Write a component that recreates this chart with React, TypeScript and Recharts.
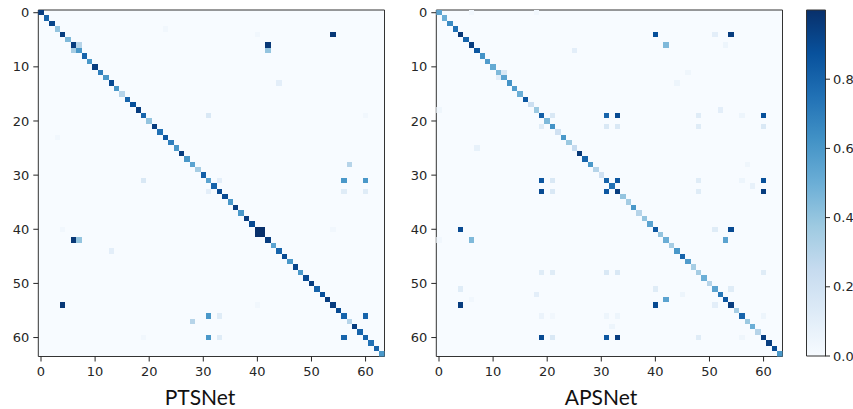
import React from "react";
import {
  Bar,
  BarChart,
  CartesianGrid,
  ReferenceArea,
  Scatter,
  ScatterChart,
  XAxis,
  YAxis,
} from "recharts";

const axisTicks = [0, 10, 20, 30, 40, 50, 60];
const barTicks = [0, 0.2, 0.4, 0.6, 0.8];

// diagonal of each matrix, row 0..63
const ptsDiag = [
  0.95, 0.8, 0.92, 0.4, 0.95, 0.45, 0.95, 0.6, 0.8, 0.6,
  0.95, 0.7, 0.6, 0.9, 0.6, 0.3, 0.8, 0.88, 0.95, 0.8,
  0.4, 0.95, 0.75, 0.85, 0.7, 0.6, 0.95, 0.6, 0.55, 0.35,
  0.82, 0.55, 0.8, 0.9, 0.9, 0.6, 0.95, 0.6, 0.95, 0.9,
  1, 1, 0.95, 0.55, 0.8, 0.9, 0.6, 0.92, 0.6, 0.9,
  0.95, 0.8, 0.88, 0.95, 0.95, 0.9, 0.8, 0.3, 0.95, 0.8,
  0.8, 0.75, 0.8, 0.6,
];

// off-diagonal cells: [row, col, value]
const ptsOff = [
  [3, 23, 0.03], [4, 40, 0.03], [4, 54, 0.97], [6, 7, 0.3], [7, 6, 0.35],
  [6, 42, 0.97], [7, 42, 0.4], [13, 44, 0.1], [19, 31, 0.15], [19, 60, 0.03],
  [23, 3, 0.03], [28, 57, 0.3], [31, 19, 0.15], [31, 33, 0.1], [31, 56, 0.6],
  [31, 60, 0.6], [33, 31, 0.1], [33, 56, 0.12], [33, 60, 0.12], [40, 4, 0.03],
  [40, 54, 0.03], [40, 41, 1], [41, 40, 1], [42, 6, 0.97], [42, 7, 0.4],
  [44, 13, 0.1], [54, 4, 0.97], [54, 40, 0.03], [56, 31, 0.6], [56, 33, 0.12],
  [56, 60, 0.8], [57, 28, 0.3], [60, 19, 0.03], [60, 31, 0.6], [60, 33, 0.12],
  [60, 56, 0.8],
];

const apsDiag = [
  0.55, 0.5, 0.65, 0.75, 0.97, 0.8, 0.95, 0.85, 0.62, 0.58,
  0.52, 0.45, 0.55, 0.62, 0.58, 0.5, 0.85, 0.22, 0.38, 0.82,
  0.45, 0.62, 0.2, 0.6, 0.38, 0.25, 0.97, 0.8, 0.6, 0.3,
  0.2, 0.8, 0.75, 0.95, 0.4, 0.35, 0.6, 0.3, 0.4, 0.55,
  0.85, 0.4, 0.5, 0.35, 0.6, 0.8, 0.58, 0.35, 0.35, 0.5,
  0.3, 0.55, 0.72, 0.85, 0.95, 0.35, 0.8, 0.38, 0.5, 0.3,
  0.95, 0.95, 0.9, 0.6,
];

const apsOff = [
  [0, 6, 0.03], [0, 18, 0.03], [4, 40, 0.88], [4, 51, 0.1], [4, 54, 0.95],
  [6, 42, 0.45], [6, 53, 0.05], [7, 25, 0.1], [11, 12, 0.15], [12, 11, 0.1],
  [11, 46, 0.04], [13, 44, 0.05], [18, 0, 0.04], [18, 52, 0.1], [19, 21, 0.15],
  [19, 31, 0.8], [19, 33, 0.9], [19, 48, 0.12], [19, 56, 0.05], [19, 60, 0.88],
  [21, 19, 0.12], [21, 31, 0.15], [21, 33, 0.15], [21, 48, 0.12], [21, 60, 0.15],
  [25, 7, 0.08], [28, 57, 0.04], [31, 19, 0.85], [31, 21, 0.15], [31, 33, 0.85],
  [31, 48, 0.12], [31, 56, 0.05], [31, 60, 0.88], [32, 58, 0.08], [33, 19, 0.9],
  [33, 21, 0.15], [33, 31, 0.85], [33, 48, 0.12], [33, 60, 0.95], [40, 4, 0.9],
  [40, 51, 0.12], [40, 54, 0.9], [42, 0, 0.03], [42, 6, 0.45], [42, 53, 0.55],
  [48, 19, 0.12], [48, 21, 0.12], [48, 31, 0.15], [48, 33, 0.15], [48, 60, 0.12],
  [51, 4, 0.12], [51, 40, 0.12], [51, 54, 0.12], [52, 18, 0.1], [52, 45, 0.05],
  [53, 6, 0.03], [53, 42, 0.55], [54, 4, 0.95], [54, 40, 0.9], [54, 51, 0.1],
  [56, 19, 0.06], [56, 21, 0.03], [56, 31, 0.05], [56, 33, 0.05], [56, 60, 0.05],
  [58, 32, 0.05], [60, 19, 0.9], [60, 21, 0.15], [60, 31, 0.85], [60, 33, 0.95],
  [60, 48, 0.12], [60, 56, 0.04],
];

// matplotlib "Blues"
const bluesStops = [
  "#f7fbff", "#deebf7", "#c6dbef", "#9ecae1", "#6baed6",
  "#4292c6", "#2171b5", "#08519c", "#08306b",
];

const hex = (h: string) => [1, 3, 5].map((i) => parseInt(h.slice(i, i + 2), 16));

function blues(v: number) {
  const t = Math.max(0, Math.min(1, v)) * (bluesStops.length - 1);
  const i = Math.min(Math.floor(t), bluesStops.length - 2);
  const f = t - i;
  const a = hex(bluesStops[i]);
  const b = hex(bluesStops[i + 1]);
  const c = a.map((x, k) => Math.round(x + (b[k] - x) * f));
  return `rgb(${c[0]},${c[1]},${c[2]})`;
}

function toCells(diag: number[], off: number[][]) {
  return [
    ...diag.map((v, i) => ({ r: i, c: i, v })),
    ...off.map(([r, c, v]) => ({ r, c, v })),
  ];
}

const ptsCells = toCells(ptsDiag, ptsOff);
const apsCells = toCells(apsDiag, apsOff);

const FONT = "'DejaVu Sans', sans-serif";
const INK = "#262626";
const tickStyle = { fill: INK, fontSize: 13, fontFamily: FONT };

const PLOT_W = 346.2;
const PLOT_H = 346.5;
const CELL_W = PLOT_W / 64;
const CELL_H = PLOT_H / 64;

function CellShape(props: any) {
  const { cx, cy, payload } = props;
  return (
    <rect
      x={cx - CELL_W / 2}
      y={cy - CELL_H / 2}
      width={CELL_W}
      height={CELL_H}
      fill={blues(payload.v)}
      shapeRendering="crispEdges"
    />
  );
}

function Heatmap({ cells, left }: { cells: any[]; left: number }) {
  const W = 392;
  const H = 380;
  return (
    <div style={{ position: "absolute", left, top: 0 }}>
      <ScatterChart
        width={W}
        height={H}
        margin={{ top: 10, right: W - 38.3 - PLOT_W, bottom: 0, left: 0 }}
      >
        <CartesianGrid horizontal={false} vertical={false} fill="#f7fbff" />
        <XAxis
          type="number"
          dataKey="c"
          domain={[-0.5, 63.5]}
          allowDataOverflow
          ticks={axisTicks}
          height={H - 10 - PLOT_H}
          axisLine={false}
          tickLine={{ stroke: INK }}
          tickSize={5}
          tickMargin={5}
          tick={tickStyle}
        />
        <YAxis
          type="number"
          dataKey="r"
          reversed
          domain={[-0.5, 63.5]}
          allowDataOverflow
          ticks={axisTicks}
          width={38.3}
          axisLine={false}
          tickLine={{ stroke: INK }}
          tickSize={5}
          tickMargin={4}
          tick={tickStyle}
        />
        <Scatter data={cells} shape={CellShape} isAnimationActive={false} />
        <ReferenceArea
          x1={-0.5}
          x2={63.5}
          y1={-0.5}
          y2={63.5}
          fill="none"
          stroke="#333"
          strokeWidth={1}
          ifOverflow="visible"
        />
      </ScatterChart>
    </div>
  );
}

const colorbarData = [{ name: "scale", v: 1 }];

function Colorbar() {
  return (
    <div style={{ position: "absolute", left: 780, top: 0 }}>
      <BarChart
        width={73}
        height={380}
        data={colorbarData}
        margin={{ top: 10, right: 0, bottom: 24, left: 26.5 }}
        barCategoryGap={0}
      >
        <defs>
          <linearGradient id="bluesGrad" x1="0" y1="1" x2="0" y2="0">
            {bluesStops.map((c, i) => (
              <stop key={c} offset={i / (bluesStops.length - 1)} stopColor={c} />
            ))}
          </linearGradient>
        </defs>
        <XAxis dataKey="name" hide />
        <YAxis
          orientation="right"
          type="number"
          domain={[0, 1]}
          ticks={barTicks}
          tickFormatter={(v: number) => v.toFixed(1)}
          width={28}
          axisLine={false}
          tickLine={{ stroke: INK }}
          tickSize={5}
          tickMargin={3}
          tick={tickStyle}
        />
        <Bar
          dataKey="v"
          fill="url(#bluesGrad)"
          stroke="#333"
          strokeWidth={1}
          isAnimationActive={false}
        />
      </BarChart>
    </div>
  );
}

export default function App() {
  return (
    <div
      style={{
        position: "absolute",
        left: 0,
        top: 0,
        width: 853,
        height: 409,
        background: "#fff",
        overflow: "hidden",
      }}
    >
      <Heatmap cells={ptsCells} left={0} />
      <Heatmap cells={apsCells} left={398} />
      <Colorbar />
      <svg
        width={853}
        height={409}
        style={{ position: "absolute", left: 0, top: 0, pointerEvents: "none" }}
      >
        <text x={200} y={405} textAnchor="middle" fontFamily="Lato, sans-serif" fontSize={21} fill="#111">
          PTSNet
        </text>
        <text x={601} y={405} textAnchor="middle" fontFamily="Lato, sans-serif" fontSize={21} fill="#111">
          APSNet
        </text>
      </svg>
    </div>
  );
}
